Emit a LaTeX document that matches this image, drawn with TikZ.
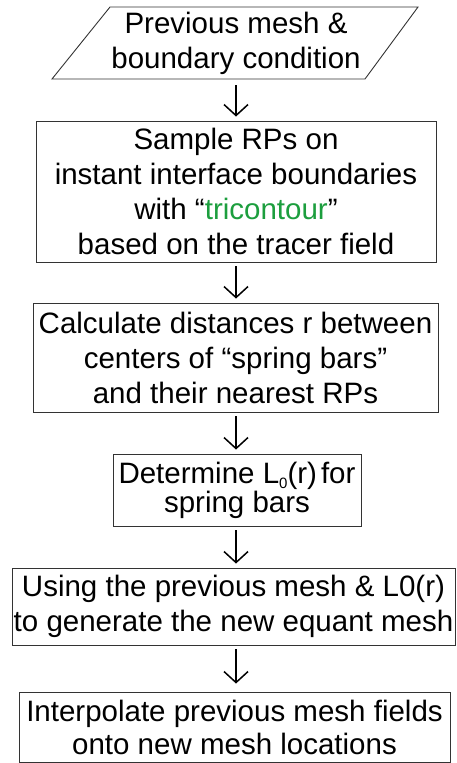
\documentclass[tikz,border=0pt]{standalone}
\usepackage{fontspec}
\setmainfont{Liberation Sans}
\usetikzlibrary{arrows.meta}
\definecolor{tcgreen}{RGB}{28,158,62}
\newcommand{\lsub}[1]{\raisebox{-5pt}{\fontsize{15}{15}\selectfont #1}}
\tikzset{
  stepbox/.style={draw=black!80, line width=0.9pt, align=center, inner sep=0pt,
    font=\fontsize{29.5}{35}\selectfont},
  flow/.style={-{Straight Barb[length=11pt,width=24pt]}, line width=1.5pt,
    shorten <=4pt, shorten >=4pt},
}
\begin{document}
\begin{tikzpicture}[x=1pt,y=-1pt]
  \useasboundingbox (0,0) rectangle (456,763);
  % axe vertical des fleches
  \coordinate (axis) at (236,0);

  % Entree : parallelogramme
  \draw[black!80, line width=0.9pt] (110,7) -- (418,7) -- (365,79) -- (52,79) -- cycle;
  \node[align=center, inner sep=0pt, font=\fontsize{29.5}{35}\selectfont] (prev) at (236,43)
    {Previous mesh \&\\boundary condition};
  \coordinate (prevbot) at (236,79);

  % Etapes
  \node[stepbox, minimum width=400pt, minimum height=141pt] (sample) at (236,191.5)
    {Sample RPs on\\instant interface boundaries\\with “\textcolor{tcgreen}{tricontour}”\\based on the tracer field};
  \node[stepbox, minimum width=405pt, minimum height=109pt] (dist) at (235.5,357.5)
    {Calculate distances r between\\centers of “spring bars”\\and their nearest RPs};
  \node[stepbox, minimum width=248pt, minimum height=72pt, font=\fontsize{29.5}{29}\selectfont] (lzero) at (237,490)
    {Determine L\lsub{0}(r)\hspace{4pt}for\\spring bars};
  \node[stepbox, minimum width=443pt, minimum height=77pt] (gen) at (233.5,606.5)
    {Using the previous mesh \& L0(r)\\to generate the new equant mesh};
  \node[stepbox, minimum width=431pt, minimum height=70pt, font=\fontsize{29.5}{33}\selectfont] (interp) at (234.5,727)
    {Interpolate previous mesh fields\\onto new mesh locations};

  % Fleches
  \draw[flow, shorten <=6pt] (prevbot -| axis) -- (sample.north -| axis);
  \draw[flow] (sample.south -| axis) -- (dist.north -| axis);
  \draw[flow] (dist.south -| axis) -- (lzero.north -| axis);
  \draw[flow] (lzero.south -| axis) -- (gen.north -| axis);
  \draw[flow, shorten >=8pt] (gen.south -| axis) -- (interp.north -| axis);
\end{tikzpicture}
\end{document}
